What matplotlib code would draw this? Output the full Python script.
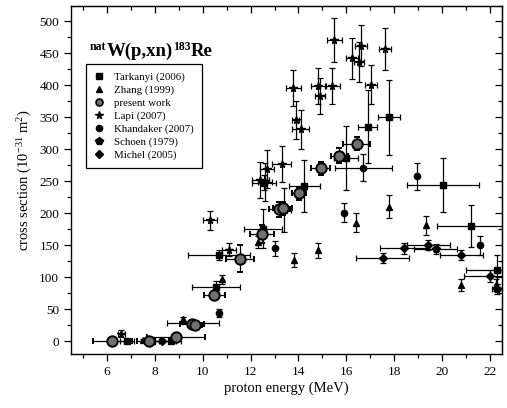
import matplotlib
matplotlib.use("Agg")
import matplotlib.pyplot as plt
from matplotlib.lines import Line2D
from matplotlib.ticker import MultipleLocator

plt.rcParams["font.family"] = ["Liberation Serif", "DejaVu Serif"]
plt.rcParams["mathtext.fontset"] = "custom"
plt.rcParams["mathtext.rm"] = "Liberation Serif"
plt.rcParams["mathtext.it"] = "Liberation Serif:italic"
plt.rcParams["mathtext.bf"] = "Liberation Serif:bold"

# ---- data: natW(p,xn)183Re excitation function ----
# present work
pw_x = [6.23, 7.74, 8.88, 9.55, 9.68, 10.49, 11.56, 12.47, 13.20, 13.35, 14.03, 14.92, 15.70, 16.43]
pw_y = [0, 0, 6, 27, 26, 73, 129, 168, 206, 208, 231, 270, 290, 309]
pw_xe = [0.8, 0.5, 1.2, 0.5, 0.3, 0.45, 0.6, 0.5, 0.45, 0.4, 0.3, 0.4, 0.35, 0.55]
pw_ye = [3, 3, 4, 4, 4, 6, 21, 14, 12, 10, 10, 10, 12, 10]

# Tarkanyi (2006)
ta_x = [6.83, 7.88, 8.68, 10.55, 10.69, 12.51, 12.57, 13.40, 14.25, 16.00, 16.90, 17.78, 20.05, 21.19, 22.30]
ta_y = [0, 0, 0, 85, 135, 176, 248, 205, 243, 287, 335, 350, 244, 180, 112]
ta_xe = [0.3, 0.3, 0.4, 1.0, 1.3, 0.8, 0.5, 0.3, 0.65, 0.5, 0.4, 0.45, 1.5, 1.4, 1.3]
ta_ye = [2, 2, 2, 9, 8, 31, 12, 35, 41, 50, 57, 59, 42, 33, 22]

# Zhang (1999)
zh_x = [7.49, 9.18, 10.80, 12.31, 13.80, 14.82, 16.42, 17.80, 19.31, 20.80, 22.23]
zh_y = [2, 34, 97, 155, 127, 142, 185, 210, 181, 88, 88]
zh_ye = [2, 4, 7, 10, 11, 12, 15, 18, 15, 10, 10]

# Lapi (2007)
la_x = [6.60, 10.31, 11.10, 12.40, 12.60, 12.68, 13.30, 13.79, 13.89, 14.10, 14.83, 14.90,
        15.42, 15.50, 16.22, 16.53, 16.61, 17.02, 17.62]
la_y = [12, 189, 143, 252, 249, 269, 277, 396, 346, 331, 399, 383,
        399, 471, 442, 436, 462, 401, 457]
la_xe = [0.15, 0.3, 0.3, 0.35, 0.3, 0.3, 0.4, 0.3, 0.15, 0.35, 0.3, 0.2,
         0.3, 0.3, 0.25, 0.2, 0.25, 0.25, 0.25]
la_ye = [5, 15, 10, 28, 30, 30, 28, 28, 30, 30, 28, 28,
         28, 34, 32, 31, 32, 30, 33]

# Khandaker (2007)
kh_x = [10.70, 13.00, 15.92, 16.71, 18.97, 21.60]
kh_y = [44, 145, 201, 271, 258, 150]
kh_xe = [0, 0, 0, 1.2, 0, 0]
kh_ye = [6, 12, 15, 21, 21, 15]

# Schoen (1979)
sc_x = [9.60, 19.73, 22.30]
sc_y = [28, 144, 82]
sc_xe = [1.1, 0.9, 0.2]
sc_ye = [4, 8, 8]

# Michel (2005)
mi_x = [8.30, 17.52, 18.42, 19.42, 20.80, 22.00]
mi_y = [0, 130, 145, 150, 135, 102]
mi_xe = [0.6, 1.1, 1.0, 0.9, 0.9, 1.1]
mi_ye = [2, 8, 8, 8, 8, 10]

fig = plt.figure(figsize=(5.07, 4.08), dpi=100)
ax = fig.add_axes([71 / 507, 1 - 354 / 408, (502 - 71) / 507, (354 - 6) / 408])

eb = dict(ecolor="black", elinewidth=0.9, capsize=2.5, capthick=0.9,
          linestyle="none", color="black")

ax.errorbar(ta_x, ta_y, xerr=ta_xe, yerr=ta_ye, fmt="s", ms=4.2, **eb, zorder=3)
ax.errorbar(zh_x, zh_y, yerr=zh_ye, fmt="^", ms=4.8, **eb, zorder=3)
ax.errorbar(la_x, la_y, xerr=la_xe, yerr=la_ye, fmt="*", ms=5.5, **eb, zorder=3)
ax.errorbar(kh_x, kh_y, xerr=kh_xe, yerr=kh_ye, fmt="o", ms=4.5, **eb, zorder=3)
ax.errorbar(sc_x, sc_y, xerr=sc_xe, yerr=sc_ye, fmt="p", ms=5.5, **eb, zorder=3)
ax.errorbar(mi_x, mi_y, xerr=mi_xe, yerr=mi_ye, fmt="D", ms=4.2, **eb, zorder=3)
ax.errorbar(pw_x, pw_y, xerr=pw_xe, yerr=pw_ye, fmt="o", ms=7.5,
            mfc="#707070", mec="black", mew=1.4, ecolor="black",
            elinewidth=0.9, capsize=2.5, capthick=0.9, linestyle="none", zorder=4)

ax.set_xlim(4.5, 22.5)
ax.set_ylim(-20, 524)
ax.xaxis.set_major_locator(MultipleLocator(2))
ax.xaxis.set_minor_locator(MultipleLocator(1))
ax.yaxis.set_major_locator(MultipleLocator(50))
ax.yaxis.set_minor_locator(MultipleLocator(25))
ax.tick_params(which="both", direction="out", top=False, right=False, labelsize=9.5, width=0.9)
ax.tick_params(which="major", length=5)
ax.tick_params(which="minor", length=3)

# inward ticks on the top and right frame
ax2 = ax.secondary_xaxis("top")
ax2.xaxis.set_major_locator(MultipleLocator(2))
ax2.xaxis.set_minor_locator(MultipleLocator(1))
ax2.tick_params(which="both", direction="in", labeltop=False, width=0.9)
ax2.tick_params(which="major", length=5)
ax2.tick_params(which="minor", length=3)
ay2 = ax.secondary_yaxis("right")
ay2.yaxis.set_major_locator(MultipleLocator(50))
ay2.yaxis.set_minor_locator(MultipleLocator(25))
ay2.tick_params(which="both", direction="in", labelright=False, width=0.9)
ay2.tick_params(which="major", length=5)
ay2.tick_params(which="minor", length=3)

for s in ax.spines.values():
    s.set_linewidth(1.0)

ax.set_xlabel("proton energy (MeV)", fontsize=10.5, labelpad=3)
ax.set_ylabel(r"cross section (10$^{-31}$ m$^{2}$)", fontsize=10.5, labelpad=4)

# reaction label built from pieces so the superscripts sit tight
renderer = fig.canvas.get_renderer()
pieces = [("nat", 8.5, 6.5), ("W(p,xn)", 13.5, 0), ("183", 8.5, 6.5), ("Re", 13.5, 0)]
x0 = 90.0
base = 408 - 56.0
for txt, size, rise in pieces:
    t = fig.text(x0 / 507, (base + rise) / 408, txt, fontsize=size, fontweight="bold",
                 ha="left", va="baseline")
    x0 += t.get_window_extent(renderer).width

handles = [
    Line2D([], [], marker="s", color="black", ls="none", ms=4.2),
    Line2D([], [], marker="^", color="black", ls="none", ms=4.8),
    Line2D([], [], marker="o", mfc="#707070", mec="black", mew=1.2, ls="none", ms=5),
    Line2D([], [], marker="*", color="black", ls="none", ms=5.5),
    Line2D([], [], marker="o", color="black", ls="none", ms=4.5),
    Line2D([], [], marker="p", color="black", ls="none", ms=5.5),
    Line2D([], [], marker="D", color="black", ls="none", ms=4.2),
]
labels = ["Tarkanyi (2006)", "Zhang (1999)", "present work", "Lapi (2007)",
          "Khandaker (2007)", "Schoen (1979)", "Michel (2005)"]
leg = fig.legend(handles, labels, loc="upper left",
                 bbox_to_anchor=(85.7 / 507, 1 - 64 / 408), fontsize=7.8,
                 frameon=True, fancybox=False, edgecolor="black", framealpha=1,
                 handlelength=1.0, handletextpad=0.9, labelspacing=0.3,
                 borderpad=0.75, borderaxespad=0)
leg.get_frame().set_linewidth(0.9)

fig.savefig("out.png", dpi=100)
